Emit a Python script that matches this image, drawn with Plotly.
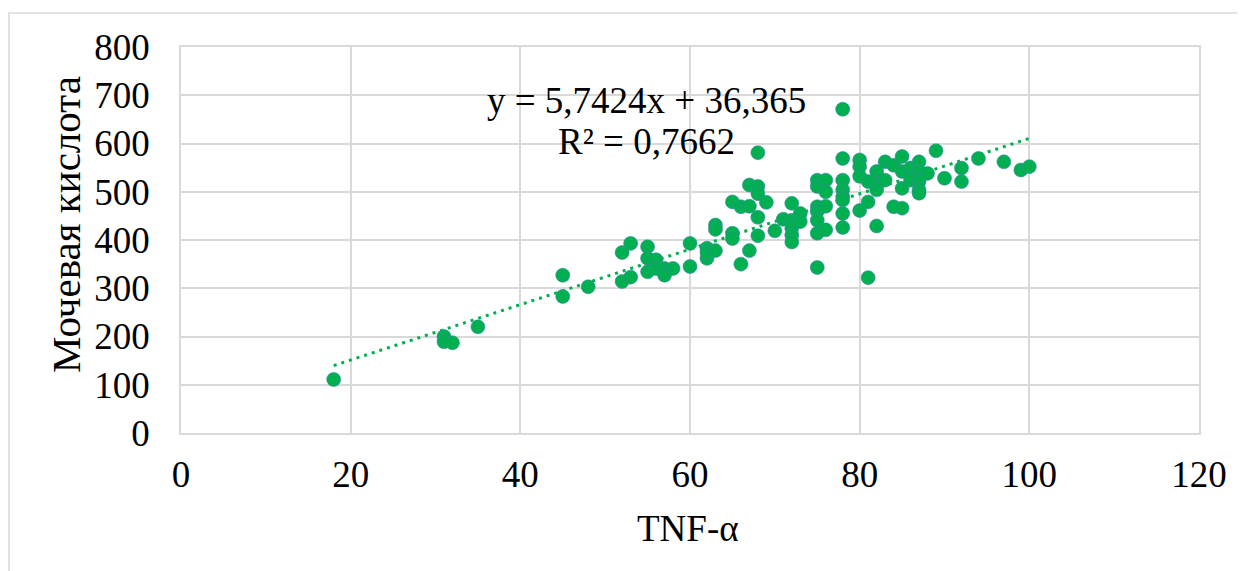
import plotly.graph_objects as go

# ---- data ----
tnf_alpha = [18, 31, 31, 32, 35, 45, 45, 48, 52, 52, 53, 53, 55, 55, 55, 56, 56, 57, 57, 58,
             60, 60, 62, 62, 62, 63, 63, 63, 65, 65, 65, 66, 66, 67, 67, 67,
             68, 68, 68, 68, 68, 69, 70, 71, 72, 72, 72, 72, 72, 73, 73,
             75, 75, 75, 75, 75, 75, 75, 76, 76, 76, 76,
             78, 78, 78, 78, 78, 78, 78, 78, 80, 80, 80, 80, 81, 81, 81,
             82, 82, 82, 82, 83, 83, 84, 84, 85, 85, 85, 85, 86, 86,
             87, 87, 87, 87, 87, 88, 89, 90, 92, 92, 94, 97, 99, 100]
uric_acid = [111, 200, 189, 187, 220, 327, 283, 303, 374, 314, 393, 323, 386, 362, 334, 359, 341, 341, 327, 341,
             393, 345, 383, 362, 374, 431, 422, 378, 479, 414, 403, 469, 350, 514, 470, 378,
             581, 511, 496, 447, 409, 478, 419, 443, 476, 441, 424, 410, 396, 455, 438,
             524, 511, 469, 459, 441, 414, 343, 524, 500, 470, 421,
             671, 569, 524, 504, 490, 483, 455, 426, 566, 552, 532, 461, 521, 479, 322,
             542, 518, 504, 429, 562, 524, 555, 469, 573, 542, 507, 466, 549, 524,
             562, 542, 521, 504, 497, 538, 585, 528, 549, 521, 569, 562, 545, 552]

trend_slope = 5.7424
trend_intercept = 36.365
equation_text = "y = 5,7424x + 36,365"
r2_text = "R² = 0,7662"
x_title = "TNF-α"
y_title = "Мочевая кислота"

x_ticks = [0, 20, 40, 60, 80, 100, 120]
y_ticks = [0, 100, 200, 300, 400, 500, 600, 700, 800]

GREEN = "#00B050"
GRID = "#d9d9d9"
FONT = "Liberation Serif"
FS = 37

trend_x = [min(tnf_alpha), max(tnf_alpha)]
trend_y = [trend_slope * v + trend_intercept for v in trend_x]

fig = go.Figure()
fig.add_trace(go.Scatter(
    x=trend_x, y=trend_y, mode="lines",
    line=dict(color=GREEN, width=3, dash="3px,5px"),
    hoverinfo="skip", showlegend=False))
fig.add_trace(go.Scatter(
    x=tnf_alpha, y=uric_acid, mode="markers",
    marker=dict(color=GREEN, size=14, line=dict(color="#3f86a8", width=0.6)),
    showlegend=False))

# page body adds an 8px offset; figure is sized to compensate
fig.update_layout(
    width=1237, height=563,
    margin=dict(l=173, r=46, t=39, b=138),
    paper_bgcolor="white", plot_bgcolor="white",
    font=dict(family=FONT, size=FS, color="black"),
    showlegend=False,
)
fig.update_xaxes(
    range=[0, 120], tickvals=x_ticks, ticktext=[str(v) for v in x_ticks],
    showgrid=True, gridcolor=GRID, gridwidth=1.5,
    showline=True, linecolor=GRID, linewidth=1.5, mirror=True,
    zeroline=False, ticks="outside", ticklen=8, tickcolor="rgba(0,0,0,0)",
    tickfont=dict(family=FONT, size=FS, color="black"),
)
fig.update_yaxes(
    range=[0, 800], tickvals=y_ticks, ticktext=[str(v) for v in y_ticks],
    showgrid=True, gridcolor=GRID, gridwidth=1.5,
    showline=True, linecolor=GRID, linewidth=1.5, mirror=True,
    zeroline=False, ticks="outside", ticklen=22, tickcolor="rgba(0,0,0,0)",
    tickfont=dict(family=FONT, size=FS, color="black"),
)

# axis titles
fig.add_annotation(text=x_title, xref="paper", yref="paper",
                   x=0.4985, y=(433 - 528) / 386, xanchor="center", yanchor="middle",
                   showarrow=False, font=dict(family=FONT, size=FS, color="black"))
fig.add_annotation(text=y_title, xref="paper", yref="paper", textangle=-90,
                   x=(66 - 181) / 1018, y=(433 - 225) / 386, xanchor="center", yanchor="middle",
                   showarrow=False, font=dict(family=FONT, size=41, color="black"))

# equation label
fig.add_annotation(text=equation_text, xref="x", yref="y", x=54.9, y=689,
                   xanchor="center", yanchor="middle", showarrow=False,
                   font=dict(family=FONT, size=FS, color="black"))
fig.add_annotation(text=r2_text, xref="x", yref="y", x=54.9, y=604,
                   xanchor="center", yanchor="middle", showarrow=False,
                   font=dict(family=FONT, size=FS, color="black"))

# outer chart border
fig.add_shape(type="rect", xref="paper", yref="paper",
              x0=(9 - 181) / 1018, x1=(1270 - 181) / 1018,
              y0=(433 - 600) / 386, y1=(433 - 13) / 386,
              line=dict(color=GRID, width=1.5), fillcolor="rgba(0,0,0,0)", layer="below")

fig.write_html("out.html")
